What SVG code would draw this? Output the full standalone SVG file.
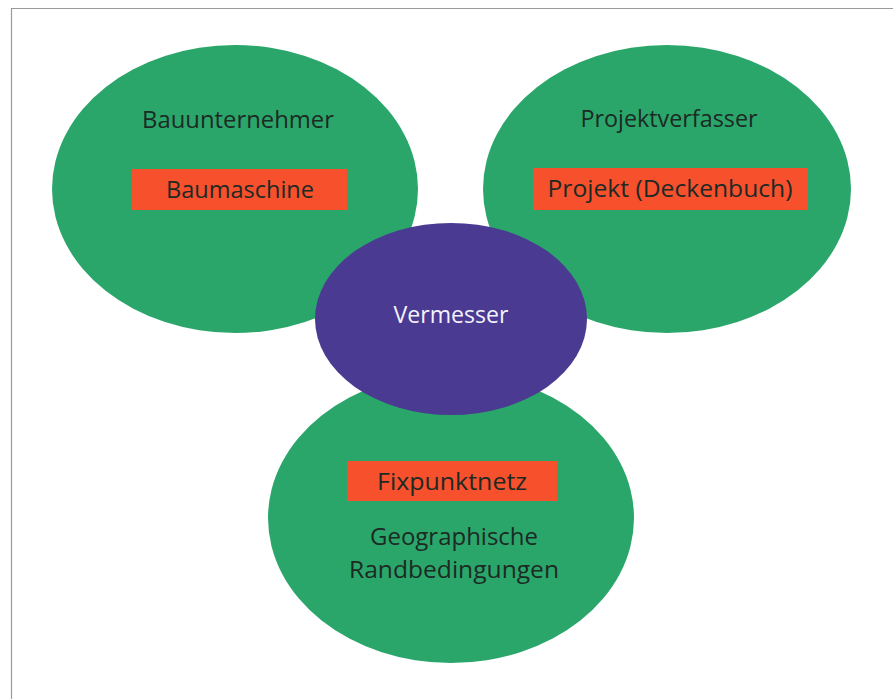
<svg xmlns="http://www.w3.org/2000/svg" width="893" height="699" viewBox="0 0 893 699">
<style>
.g{fill:#2ba66b}
.box{fill:#f6502d}
.t{font-family:"Open Sans","Noto Sans",sans-serif;font-size:24px;fill:#1c2a24;text-anchor:middle}
.w{fill:#f4f2fa}
</style>
<rect x="0" y="0" width="893" height="699" fill="#ffffff"/>
<path d="M11.5 699 V8.5 H893" fill="none" stroke="#9a9a9a" stroke-width="1.2"/>
<g id="connectors"></g>
<g id="bauunternehmer">
<ellipse class="g" cx="235" cy="189" rx="183" ry="144"/>
<text class="t" x="238" y="128" textLength="192" lengthAdjust="spacingAndGlyphs">Bauunternehmer</text>
<rect class="box" x="132" y="169" width="215" height="41"/>
<text class="t" x="240" y="198" textLength="148" lengthAdjust="spacingAndGlyphs">Baumaschine</text>
</g>
<g id="projektverfasser">
<ellipse class="g" cx="667" cy="189" rx="184" ry="144"/>
<text class="t" x="669" y="127" textLength="177" lengthAdjust="spacingAndGlyphs">Projektverfasser</text>
<rect class="box" x="533" y="168" width="275" height="42"/>
<text class="t" x="670" y="197" textLength="245" lengthAdjust="spacingAndGlyphs">Projekt (Deckenbuch)</text>
</g>
<g id="fixpunktnetz">
<ellipse class="g" cx="451" cy="518" rx="183" ry="145"/>
<rect class="box" x="347" y="461" width="210" height="40"/>
<text class="t" x="452" y="490" textLength="150" lengthAdjust="spacingAndGlyphs">Fixpunktnetz</text>
<text class="t" x="454" y="545" textLength="168" lengthAdjust="spacingAndGlyphs">Geographische</text>
<text class="t" x="454" y="578" textLength="210" lengthAdjust="spacingAndGlyphs">Randbedingungen</text>
</g>
<g id="vermesser">
<ellipse cx="451" cy="319" rx="136" ry="96" fill="#4a3a92"/>
<text class="t w" x="451" y="323" textLength="115" lengthAdjust="spacingAndGlyphs">Vermesser</text>
</g>
</svg>
